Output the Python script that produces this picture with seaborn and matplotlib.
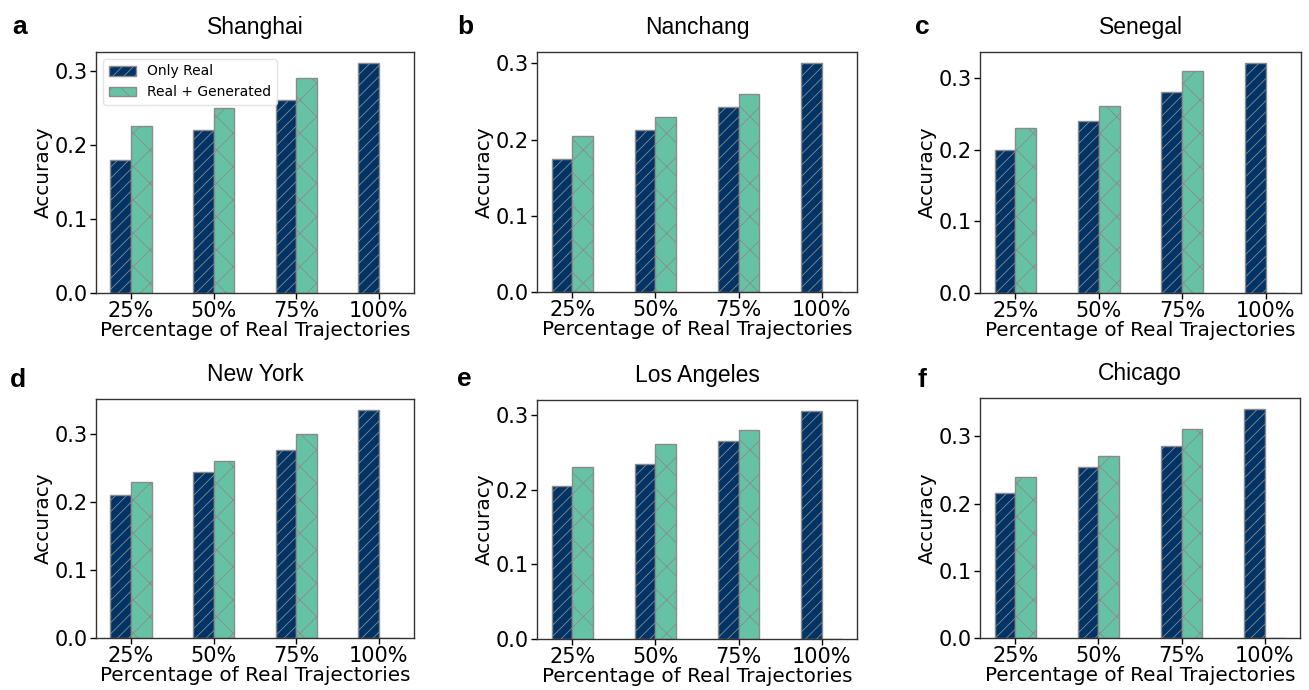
import pandas as pd
import numpy as np
import matplotlib
matplotlib.use("Agg")
import matplotlib.pyplot as plt
from matplotlib.patches import Patch
import seaborn as sns

sns.set_theme(style="ticks")
plt.rcParams['font.family'] = ['DejaVu Sans']
plt.rcParams['hatch.linewidth'] = 0.6
plt.rcParams['text.color'] = 'black'
plt.rcParams['axes.labelcolor'] = 'black'

# datos
cities = ['Shanghai', 'Nanchang', 'Senegal', 'New York', 'Los Angeles', 'Chicago']
letters = ['a', 'b', 'c', 'd', 'e', 'f']
percentages = ['25%', '50%', '75%', '100%']
methods = ['Only Real', 'Real + Generated']

only_real = [
    [0.180, 0.220, 0.260, 0.310],
    [0.175, 0.212, 0.243, 0.300],
    [0.200, 0.240, 0.280, 0.320],
    [0.210, 0.245, 0.276, 0.335],
    [0.205, 0.235, 0.265, 0.305],
    [0.215, 0.255, 0.285, 0.340],
]
real_generated = [
    [0.225, 0.250, 0.290, 0.0],
    [0.205, 0.230, 0.260, 0.0],
    [0.230, 0.261, 0.310, 0.0],
    [0.230, 0.261, 0.300, 0.0],
    [0.230, 0.261, 0.280, 0.0],
    [0.240, 0.271, 0.311, 0.0],
]

colors = ['#003366', '#66c2a5']
hatches = ['///', 'x']
hatch_colors = ['#3f5b7c', '#8c9994']
edge = '#8a8a8a'

W, H = 1309, 690
fig = plt.figure(figsize=(W / 100, H / 100), dpi=100)

# posicion de cada panel en pixeles: izquierda, arriba, derecha, abajo
boxes = [
    (96, 52, 414, 293), (537, 52, 857, 292), (980, 52, 1301, 293),
    (96, 399, 414, 638), (537, 400, 857, 639), (980, 398, 1300, 638),
]
letter_pos = [(12, 34), (457, 34), (915, 34), (10, 387), (457, 386), (918, 387)]


def style_hatch(p, h, hc):
    p.set_hatch(h)
    p.set_edgecolor(edge)
    if hasattr(p, 'set_hatchcolor'):
        p.set_hatchcolor(hc)


for i, city in enumerate(cities):
    l, t, r, b = boxes[i]
    ax = fig.add_axes([l / W, 1 - b / H, (r - l) / W, (b - t) / H])

    df = pd.DataFrame({
        'pct': percentages * 2,
        'method': [methods[0]] * 4 + [methods[1]] * 4,
        'acc': only_real[i] + real_generated[i],
    })
    sns.barplot(data=df, x='pct', y='acc', hue='method', hue_order=methods,
                order=percentages, palette=colors, width=0.5, errorbar=None,
                edgecolor=edge, linewidth=1, saturation=1, legend=False, ax=ax)

    for cont, h, hc in zip(ax.containers, hatches, hatch_colors):
        for p in cont:
            style_hatch(p, h, hc)

    ax.set_xlim(-0.425, 3.425)
    ax.set_yticks([0.0, 0.1, 0.2, 0.3])
    ax.set_yticklabels(['0.0', '0.1', '0.2', '0.3'])
    ax.tick_params(labelsize=15, length=4, width=1, pad=2, colors='black')
    for s in ax.spines.values():
        s.set_color('#333333')
        s.set_linewidth(1)
    ax.set_xlabel('Percentage of Real Trajectories', fontsize=14.4, labelpad=0)
    ax.set_ylabel('Accuracy', fontsize=14.4, labelpad=1)
    ax.set_title(city, fontsize=16.5, family='Liberation Sans', pad=13)

    if i == 0:
        handles = []
        for c, h, hc, m in zip(colors, hatches, hatch_colors, methods):
            hp = Patch(facecolor=c, label=m)
            style_hatch(hp, h, hc)
            handles.append(hp)
        ax.legend(handles=handles, loc='upper left', fontsize=10, frameon=True,
                  framealpha=0.8, edgecolor='#dddddd')

    lx, ly = letter_pos[i]
    fig.text(lx / W, 1 - ly / H, letters[i], fontsize=19, fontweight='bold',
             family='Liberation Sans', va='baseline', ha='left')

plt.savefig('out.png', dpi=100)
